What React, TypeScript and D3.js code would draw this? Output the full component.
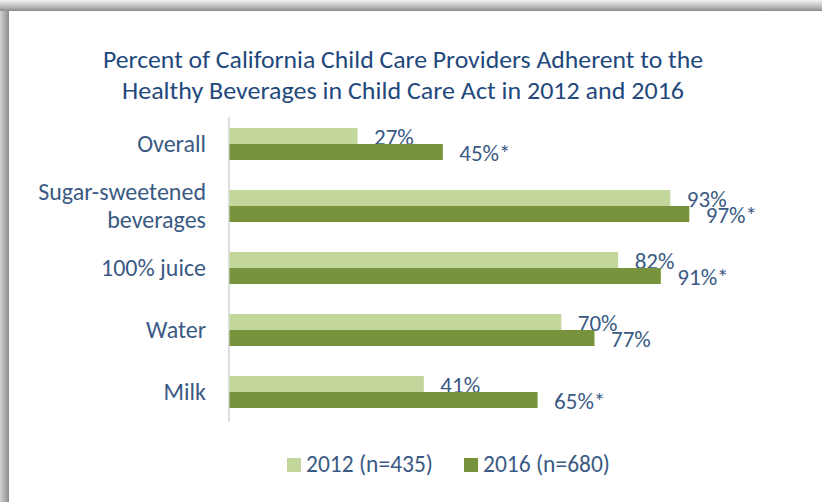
import React from "react";
import * as d3 from "d3";

const categories = ["Overall", "Sugar-sweetened beverages", "100% juice", "Water", "Milk"];
const categoryLines = [["Overall"], ["Sugar-sweetened", "beverages"], ["100% juice"], ["Water"], ["Milk"]];
const seriesNames = ["2012 (n=435)", "2016 (n=680)"];
const values2012 = [27, 93, 82, 70, 41];
const values2016 = [45, 97, 91, 77, 65];
const labels2012 = ["27%", "93%", "82%", "70%", "41%"];
const labels2016 = ["45%*", "97%*", "91%*", "77%", "65%*"];
const titleLines = [
  "Percent of California Child Care Providers Adherent to the",
  "Healthy Beverages in Child Care Act in 2012 and 2016",
];

const W = 822;
const H = 502;
const FONT = "Carlito, Calibri, Lato, 'Noto Sans', sans-serif";
const TITLE_COLOR = "#1F497D";
const TEXT_COLOR = "#3A5A84";
const COLORS = ["#C3D69B", "#77933C"];

export default function App() {
  const x = d3.scaleLinear().domain([0, 100]).range([229, 703]);
  const y = d3
    .scaleBand<string>()
    .domain(categories)
    .range([113, 423])
    .paddingInner(30 / 62)
    .paddingOuter(15 / 62);
  const ys = d3.scaleBand<string>().domain(seriesNames).range([0, y.bandwidth()]);
  const series = [
    { name: seriesNames[0], values: values2012, labels: labels2012 },
    { name: seriesNames[1], values: values2016, labels: labels2016 },
  ];

  return (
    <svg
      width={W}
      height={H}
      style={{ position: "absolute", left: 0, top: 0, background: "#fff" }}
      fontFamily={FONT}
    >
      <defs>
        <linearGradient id="topShade" x1="0" y1="0" x2="0" y2="1">
          <stop offset="0" stopColor="#f2f2f2" />
          <stop offset="0.6" stopColor="#bdbdbd" />
          <stop offset="1" stopColor="#8a8a8a" />
        </linearGradient>
        <linearGradient id="leftShade" x1="0" y1="0" x2="1" y2="0">
          <stop offset="0" stopColor="#d0d0d0" />
          <stop offset="0.6" stopColor="#a8a8a8" />
          <stop offset="1" stopColor="#8a8a8a" />
        </linearGradient>
      </defs>
      <rect x={0} y={0} width={W} height={H} fill="#fff" />
      <rect x={0} y={0} width={9} height={H} fill="url(#leftShade)" />
      <rect x={0} y={0} width={W} height={11} fill="url(#topShade)" />

      {titleLines.map((t, i) => (
        <text
          key={i}
          x={403}
          y={68 + i * 31}
          textAnchor="middle"
          fontSize={25}
          fontWeight={500}
          fill={TITLE_COLOR}
          textLength={i === 0 ? 600 : 562}
          lengthAdjust="spacingAndGlyphs"
        >
          {t}
        </text>
      ))}

      {/* axis line */}
      <line x1={x(0)} x2={x(0)} y1={117} y2={422} stroke="#c8c8c8" strokeWidth={1.2} />

      {series.map((s, si) => (
        <g key={s.name}>
          {categories.map((c, ci) => (
            <rect
              key={c}
              x={x(0) + 0.5}
              y={(y(c) as number) + (ys(s.name) as number)}
              width={x(s.values[ci]) - x(0)}
              height={ys.bandwidth()}
              fill={COLORS[si]}
            />
          ))}
          {categories.map((c, ci) => (
            <text
              key={c + "l"}
              x={x(s.values[ci]) + 17}
              y={(y(c) as number) + (ys(s.name) as number) + ys.bandwidth() / 2 + 8.5}
              fontSize={23}
              fill={TEXT_COLOR}
            >
              {s.labels[ci]}
            </text>
          ))}
        </g>
      ))}

      {categories.map((c, ci) => {
        const lines = categoryLines[ci];
        const cy = (y(c) as number) + y.bandwidth() / 2;
        const lh = 28;
        return (
          <text key={c} x={206} textAnchor="end" fontSize={24} fill={TEXT_COLOR}>
            {lines.map((l, li) => (
              <tspan key={li} x={206} y={cy + 8 + (li - (lines.length - 1) / 2) * lh}>
                {l}
              </tspan>
            ))}
          </text>
        );
      })}

      {/* legend */}
      {seriesNames.map((n, i) => {
        const lx = i === 0 ? 287 : 464;
        return (
          <g key={n}>
            <rect x={lx} y={458} width={14} height={14} fill={COLORS[i]} />
            <text x={lx + 19} y={472} fontSize={23.5} fill={TEXT_COLOR}>
              {n}
            </text>
          </g>
        );
      })}
    </svg>
  );
}
